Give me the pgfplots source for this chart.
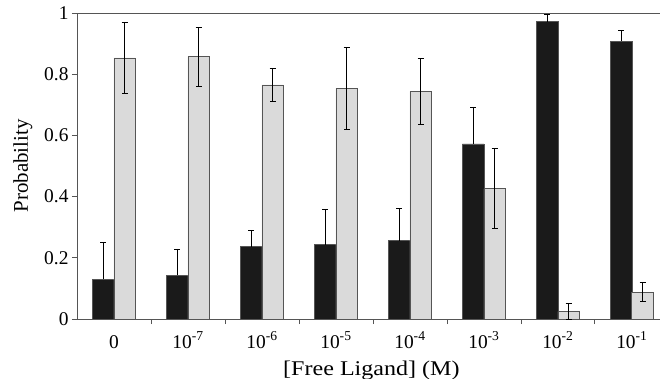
\documentclass[border=0pt]{standalone}
\usepackage{pgfplots}
\pgfplotsset{compat=1.18}
\usepackage{pgfplotstable}
\usepackage{fontspec}
\setmainfont{Liberation Serif}
\newfontfamily\widefont[FakeStretch=1.15]{Liberation Serif}

\definecolor{barblack}{HTML}{1A1A1A}
\definecolor{bargrey}{HTML}{DADADA}
\definecolor{edgegrey}{HTML}{555555}

\pgfplotstableread{
x  b      be     g      ge
0  0.130  0.120  0.853  0.115
1  0.143  0.086  0.857  0.097
2  0.236  0.052  0.765  0.053
3  0.243  0.116  0.754  0.133
4  0.256  0.106  0.744  0.108
5  0.572  0.121  0.426  0.130
6  0.972  0.024  0.025  0.025
7  0.908  0.034  0.088  0.032
}\datatable

\begin{document}
\begin{tikzpicture}
\useasboundingbox (-77bp,-60bp) rectangle (583bp,319bp);
\begin{axis}[
  at={(0,0)}, anchor=south west,
  scale only axis, width=583bp, height=306bp,
  xmin=-0.5, xmax=7.38, ymin=0, ymax=1,
  clip=false,
  axis x line*=bottom, axis y line*=left,
  axis line style={edgegrey, line width=0.8pt},
  tick align=outside,
  xtick={0,1,2,3,4,5,6,7},
  xticklabels={0,\mbox{10\textsuperscript{-7}},\mbox{10\textsuperscript{-6}},\mbox{10\textsuperscript{-5}},\mbox{10\textsuperscript{-4}},\mbox{10\textsuperscript{-3}},\mbox{10\textsuperscript{-2}},\mbox{10\textsuperscript{-1}}},
  major x tick style={draw=none},
  minor xtick={0.5,1.5,2.5,3.5,4.5,5.5,6.5},
  minor x tick style={edgegrey, line width=0.8pt},
  minor tick length=5bp,
  ytick={0,0.2,0.4,0.6,0.8,1},
  y tick style={edgegrey, line width=0.8pt},
  major tick length=5bp,
  /pgf/number format/assume math mode=true,
  tick label style={font=\fontsize{19.5}{19.5}\selectfont},
  xticklabel style={anchor=base, yshift=-24bp},
  every axis y label/.style={at={(axis description cs:-0.093,0.5)}, rotate=90, anchor=center},
  every axis x label/.style={at={(axis description cs:0.505,0)}, anchor=base, yshift=-56bp},
  ylabel style={font=\fontsize{21}{21}\selectfont},
  xlabel style={font=\widefont\fontsize{21}{21}\selectfont},
  ylabel={Probability},
  xlabel={[Free Ligand] (M)},
]
\addplot[ybar, bar width=21.5bp, bar shift=0pt, fill=barblack, draw=edgegrey, line width=0.6pt,
  error bars/.cd, y dir=plus, y explicit,
  error bar style={black, line width=0.8pt},
  error mark options={rotate=90, mark size=3bp, black, line width=0.8pt}]
  table[x expr=\thisrow{x}-0.1453, y=b, y error=be] {\datatable};
\addplot[ybar, bar width=21.5bp, bar shift=0pt, fill=bargrey, draw=edgegrey, line width=0.8pt,
  error bars/.cd, y dir=both, y explicit,
  error bar style={black, line width=0.8pt},
  error mark options={rotate=90, mark size=3bp, black, line width=0.8pt}]
  table[x expr=\thisrow{x}+0.1453, y=g, y error=ge] {\datatable};
\draw[edgegrey, line width=0.8pt] (rel axis cs:0,1) -- (rel axis cs:1,1);
\end{axis}
\end{tikzpicture}
\end{document}
